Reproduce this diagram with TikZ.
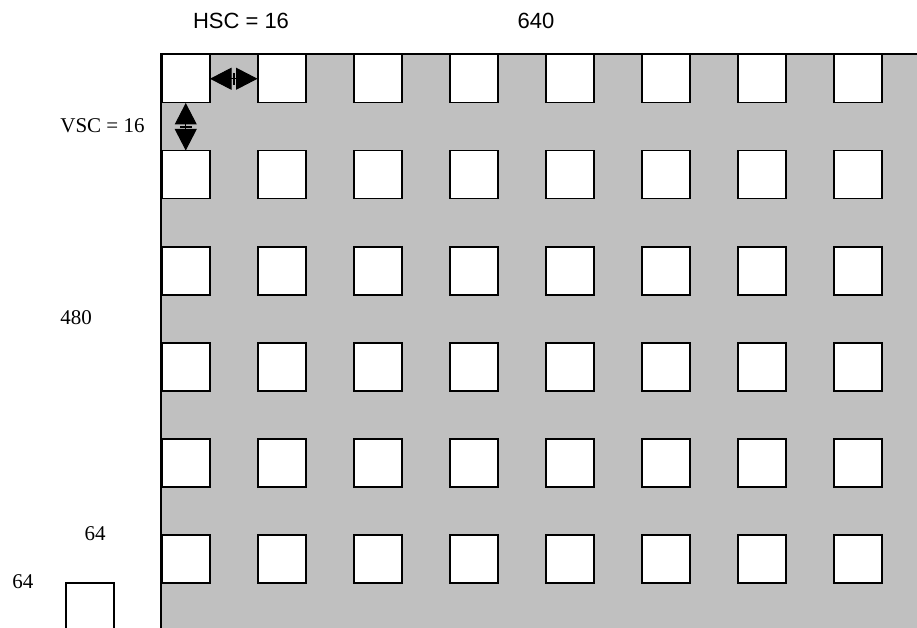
\documentclass[tikz,border=0pt]{standalone}
\usepackage{fontspec}
\setmainfont{Liberation Serif}
\setsansfont{Liberation Sans}
\usetikzlibrary{arrows.meta}
\definecolor{panelgray}{RGB}{192,192,192}
\begin{document}
\begin{tikzpicture}[x=1pt,y=-1pt,
  sq/.style={draw, fill=white, line width=1.5pt, minimum size=48pt, inner sep=0pt, anchor=north west},
  lbl/.style={font=\fontsize{21}{24}\selectfont, inner sep=0pt, anchor=base},
  slbl/.style={font=\sffamily\fontsize{22}{26}\selectfont, inner sep=0pt, anchor=base},
  halfarrow/.style={line width=1pt, {Bar[width=12pt,line width=1pt]}-{Triangle[length=21.5pt,width=22pt]}, shorten >=-0.5pt}]
\useasboundingbox (0,0) rectangle (917,628);
\fill[panelgray] (161,54) rectangle (917,628);
\draw[line width=1.5pt] (917,54) -- (161,54) -- (161,628);
\foreach \r in {0,...,5} {
  \foreach \c in {0,...,7} {
    \node[sq] (s-\r-\c) at ({161+96*\c},{54+96*\r}) {};
  }
}
\node[sq] (ref) at (65,582) {};
\path (s-0-0.east) -- (s-0-1.west) coordinate[midway] (hmid);
\path (s-0-0.south) -- (s-1-0.north) coordinate[midway] (vmid);
\draw[halfarrow] (hmid) -- (s-0-0.east);
\draw[halfarrow] (hmid) -- (s-0-1.west);
\draw[halfarrow] (vmid) -- (s-0-0.south);
\draw[halfarrow] (vmid) -- (s-1-0.north);
\node[slbl] (hsc) at (241,29) {HSC = 16};
\node[slbl] (w640) at (536,29) {640};
\node[lbl] (vsc) at (102.5,133) {VSC = 16};
\node[lbl] (h480) at (76,324) {480};
\node[lbl] (w64) at (95,540) {64};
\node[lbl] (h64) at (23,588) {64};
\end{tikzpicture}
\end{document}
